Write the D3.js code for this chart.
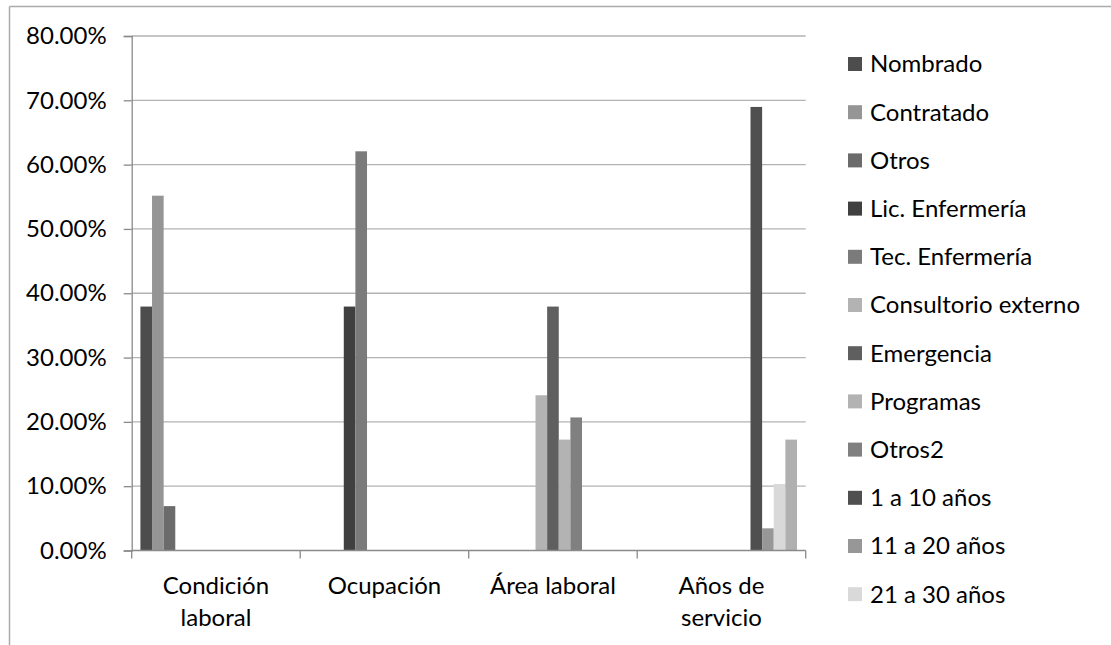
<!DOCTYPE html>
<html>
<head>
<meta charset="utf-8">
<script src="https://cdn.jsdelivr.net/npm/d3@7/dist/d3.min.js"></script>
<style>
  html, body { margin: 0; padding: 0; background: #ffffff; }
  svg { display: block; }
  text { font-family: Lato, "Open Sans", sans-serif; fill: #000; }
</style>
</head>
<body>
<svg id="chart" width="1111" height="645"></svg>
<script>
// Categories along the x axis (multi-line labels)
const categories = ["Condición laboral", "Ocupación", "Área laboral", "Años de servicio"];
const categoryLines = [["Condición", "laboral"], ["Ocupación"], ["Área laboral"], ["Años de", "servicio"]];

// Series names (one slot per series inside every category group)
const seriesNames = [
  "Nombrado", "Contratado", "Otros",
  "Lic. Enfermería", "Tec. Enfermería",
  "Consultorio externo", "Emergencia", "Programas", "Otros2",
  "1 a 10 años", "11 a 20 años", "21 a 30 años", "31 a más años"
];

// Series fill colours
const seriesColors = [
  "#4d4d4d", "#959595", "#6b6b6b",
  "#404040", "#7b7b7b",
  "#b3b3b3", "#5f5f5f", "#b3b3b3", "#808080",
  "#4f4f4f", "#979797", "#d9d9d9", "#b0b0b0"
];

// Percentages per category (null = no bar)
const valCondicion = [37.93, 55.17, 6.90, null, null, null, null, null, null, null, null, null, null];
const valOcupacion = [null, null, null, 37.93, 62.07, null, null, null, null, null, null, null, null];
const valArea      = [null, null, null, null, null, 24.14, 37.93, 17.24, 20.69, null, null, null, null];
const valAnios     = [null, null, null, null, null, null, null, null, null, 68.97, 3.45, 10.34, 17.24];

const yTicks = [0, 10, 20, 30, 40, 50, 60, 70, 80];

// Number of legend entries that fit in the legend box
const legendVisible = 12;

const values = [valCondicion, valOcupacion, valArea, valAnios];
const fontSize = 24;

const svg = d3.select("#chart");
const plot = { left: 131.7, right: 805.7, top: 36, bottom: 550.5 };

// Outer chart frame (top and left edges)
svg.append("line").attr("x1", 9.5).attr("x2", 1111).attr("y1", 6.5).attr("y2", 6.5)
  .attr("stroke", "#ababab").attr("stroke-width", 1.5);
svg.append("line").attr("x1", 9.5).attr("x2", 9.5).attr("y1", 6.5).attr("y2", 645)
  .attr("stroke", "#ababab").attr("stroke-width", 1.5);

const x = d3.scaleBand().domain(categories).range([plot.left, plot.right]).paddingInner(0).paddingOuter(0);
const xs = d3.scaleBand().domain(seriesNames).range([0, x.bandwidth()]).paddingInner(0).paddingOuter(0.75);
const y = d3.scaleLinear().domain([0, 80]).range([plot.bottom, plot.top]);

// Horizontal gridlines
svg.append("g").selectAll("line").data(yTicks.filter(t => t > 0)).join("line")
  .attr("x1", plot.left).attr("x2", plot.right)
  .attr("y1", d => y(d)).attr("y2", d => y(d))
  .attr("stroke", "#b3b3b3").attr("stroke-width", 1.3);

// Bars
const bars = [];
values.forEach((arr, ci) => arr.forEach((v, si) => {
  if (v !== null) bars.push({ cat: categories[ci], s: seriesNames[si], color: seriesColors[si], v });
}));
svg.append("g").selectAll("rect").data(bars).join("rect")
  .attr("x", d => x(d.cat) + xs(d.s))
  .attr("width", xs.bandwidth())
  .attr("y", d => y(d.v))
  .attr("height", d => y(0) - y(d.v))
  .attr("fill", d => d.color);

// Y axis
const yAxis = d3.axisLeft(y).tickValues(yTicks).tickSize(8).tickPadding(17)
  .tickFormat(d => d.toFixed(2) + "%");
const gy = svg.append("g").attr("transform", `translate(${plot.left},0)`).call(yAxis);
gy.select(".domain").attr("stroke", "#8a8a8a").attr("stroke-width", 1.3);
gy.selectAll(".tick line").attr("stroke", "#8a8a8a").attr("stroke-width", 1.3);
gy.selectAll(".tick text").attr("font-size", fontSize).attr("font-family", "Lato, 'Open Sans', sans-serif").attr("fill", "#000");

// X axis baseline and category boundary ticks
svg.append("line").attr("x1", plot.left).attr("x2", plot.right)
  .attr("y1", y(0)).attr("y2", y(0)).attr("stroke", "#8a8a8a").attr("stroke-width", 1.3);
const bounds = categories.map(c => x(c)).concat([plot.right]);
svg.append("g").selectAll("line").data(bounds).join("line")
  .attr("x1", d => d).attr("x2", d => d)
  .attr("y1", y(0)).attr("y2", y(0) + 8)
  .attr("stroke", "#8a8a8a").attr("stroke-width", 1.3);

// Category labels
const gx = svg.append("g");
categories.forEach((c, i) => {
  const cx = x(c) + x.bandwidth() / 2;
  const t = gx.append("text")
    .attr("x", cx)
    .attr("y", 594)
    .attr("text-anchor", "middle")
    .attr("font-size", fontSize);
  categoryLines[i].forEach((line, li) => {
    t.append("tspan").attr("x", cx).attr("dy", li === 0 ? 0 : 32).text(line);
  });
});

// Legend
const legend = svg.append("g");
const legendItems = seriesNames.slice(0, legendVisible).map((n, i) => ({ n, c: seriesColors[i] }));
const lg = legend.selectAll("g").data(legendItems).join("g")
  .attr("transform", (d, i) => `translate(848, ${64 + i * 48.2})`);
lg.append("rect").attr("x", 0).attr("y", -7).attr("width", 14).attr("height", 14).attr("fill", d => d.c);
lg.append("text").attr("x", 22).attr("y", 0).attr("dy", "0.35em").attr("font-size", fontSize).text(d => d.n);
</script>
</body>
</html>
